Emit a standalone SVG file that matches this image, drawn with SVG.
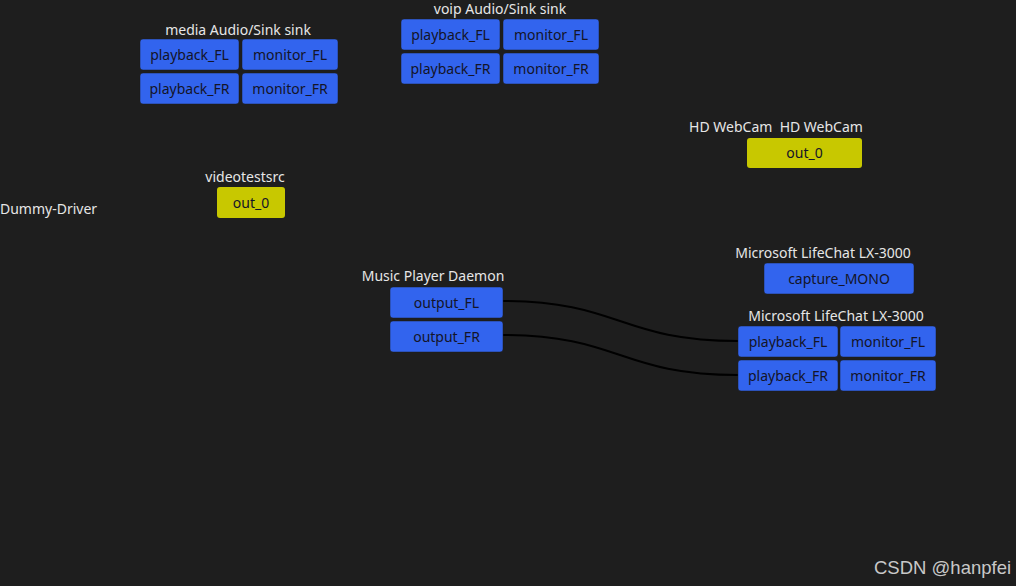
<svg xmlns="http://www.w3.org/2000/svg" width="1016" height="586" viewBox="0 0 1016 586">
  <style>
    .bg { fill: #1e1e1e; }
    .port { fill: #3264ee; stroke: #1e1e1e; stroke-width: 0.5; }
    .video { fill: #c8c800; }
    .title { font-family: "Noto Sans", "Open Sans", sans-serif; font-size: 14px; fill: #e6e6e6; text-anchor: middle; }
    .label { font-family: "Noto Sans", "Open Sans", sans-serif; font-size: 14px; fill: #141428; text-anchor: middle; }
    .link { fill: none; stroke: #000000; stroke-width: 2; }
    .mark { font-family: "Liberation Sans", Arial, sans-serif; font-size: 18.5px; fill: #c8c8c8; }
  </style>
  <rect class="bg" x="0" y="0" width="1016" height="586"/>

  <g id="connectors">
    <path class="link" d="M502,301 C620,301 620,341 738,341"/>
    <path class="link" d="M502,335 C620,335 620,375 738,375"/>
  </g>

  <g id="media-sink">
    <text class="title" x="238" y="35">media Audio/Sink sink</text>
    <rect class="port" x="140" y="39" width="99" height="31" rx="3"/>
    <text class="label" x="189.5" y="60">playback_FL</text>
    <rect class="port" x="242" y="39" width="96" height="31" rx="3"/>
    <text class="label" x="290" y="60">monitor_FL</text>
    <rect class="port" x="140" y="73" width="99" height="31" rx="3"/>
    <text class="label" x="189.5" y="94">playback_FR</text>
    <rect class="port" x="242" y="73" width="96" height="31" rx="3"/>
    <text class="label" x="290" y="94">monitor_FR</text>
  </g>

  <g id="voip-sink">
    <text class="title" x="500" y="14">voip Audio/Sink sink</text>
    <rect class="port" x="401" y="19" width="99" height="31" rx="3"/>
    <text class="label" x="450.5" y="40">playback_FL</text>
    <rect class="port" x="503" y="19" width="96" height="31" rx="3"/>
    <text class="label" x="551" y="40">monitor_FL</text>
    <rect class="port" x="401" y="53" width="99" height="31" rx="3"/>
    <text class="label" x="450.5" y="74">playback_FR</text>
    <rect class="port" x="503" y="53" width="96" height="31" rx="3"/>
    <text class="label" x="551" y="74">monitor_FR</text>
  </g>

  <g id="hd-webcam">
    <text class="title" x="776" y="132" xml:space="preserve">HD WebCam&#160; HD WebCam</text>
    <rect class="video" x="747" y="138" width="115" height="30" rx="3"/>
    <text class="label" x="804.5" y="158">out_0</text>
  </g>

  <g id="videotestsrc">
    <text class="title" x="245" y="182">videotestsrc</text>
    <rect class="video" x="217" y="187" width="68" height="31" rx="3"/>
    <text class="label" x="251" y="208">out_0</text>
  </g>

  <g id="dummy-driver">
    <text class="title" x="0" y="214" style="text-anchor:start">Dummy-Driver</text>
  </g>

  <g id="music-player-daemon">
    <text class="title" x="433" y="281">Music Player Daemon</text>
    <rect class="port" x="390" y="287" width="113" height="31" rx="3"/>
    <text class="label" x="446.5" y="308">output_FL</text>
    <rect class="port" x="390" y="321" width="113" height="31" rx="3"/>
    <text class="label" x="446.5" y="342">output_FR</text>
  </g>

  <g id="lifechat-capture">
    <text class="title" x="823" y="258">Microsoft LifeChat LX-3000</text>
    <rect class="port" x="764" y="263" width="150" height="31" rx="3"/>
    <text class="label" x="839" y="284">capture_MONO</text>
  </g>

  <g id="lifechat-playback">
    <text class="title" x="836" y="321">Microsoft LifeChat LX-3000</text>
    <rect class="port" x="738" y="326" width="100" height="31" rx="3"/>
    <text class="label" x="788" y="347">playback_FL</text>
    <rect class="port" x="840" y="326" width="96" height="31" rx="3"/>
    <text class="label" x="888" y="347">monitor_FL</text>
    <rect class="port" x="738" y="360" width="100" height="31" rx="3"/>
    <text class="label" x="788" y="381">playback_FR</text>
    <rect class="port" x="840" y="360" width="96" height="31" rx="3"/>
    <text class="label" x="888" y="381">monitor_FR</text>
  </g>

  <text class="mark" x="874" y="574">CSDN @hanpfei</text>
</svg>
